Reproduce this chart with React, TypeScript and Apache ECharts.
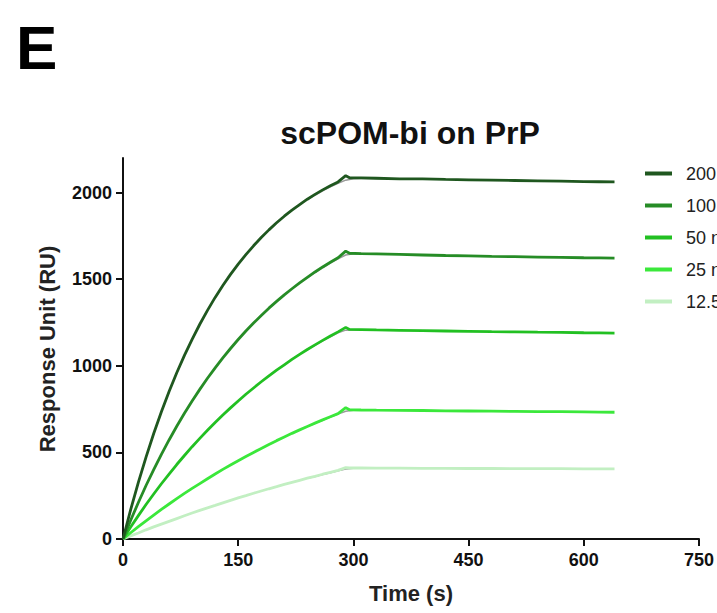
import React, { useEffect, useRef } from "react";
import * as echarts from "echarts";

// Time points (s): association 0..290, dissociation 295..640
const times = [
  0, 10, 20, 30, 40, 50, 60, 70, 80, 90, 100, 110, 120, 130, 140, 150, 160, 170, 180, 190,
  200, 210, 220, 230, 240, 250, 260, 270, 280, 290,
  295, 310, 330, 360, 390, 420, 450, 480, 510, 540, 570, 600, 620, 640,
];

const seriesNames = ["200 nM", "100 nM", "50 nM", "25 nM", "12.5 nM"];

const r200 = [
  0, 170, 327, 473, 609, 735, 852, 960, 1060, 1153, 1240, 1320, 1395, 1464, 1528, 1587, 1642, 1693, 1741, 1785,
  1826, 1864, 1899, 1931, 1962, 1990, 2016, 2040, 2062, 2098,
  2086, 2085, 2083, 2080, 2079, 2076, 2074, 2072, 2070, 2068, 2066, 2064, 2063, 2062,
];
const r100 = [
  0, 108, 211, 309, 401, 489, 572, 651, 726, 797, 864, 928, 988, 1046, 1100, 1152, 1201, 1247, 1291, 1333,
  1372, 1410, 1445, 1479, 1511, 1542, 1571, 1598, 1624, 1662,
  1650, 1648, 1646, 1643, 1640, 1637, 1635, 1632, 1630, 1628, 1626, 1624, 1623, 1622,
];
const r50 = [
  0, 69, 135, 199, 260, 319, 375, 430, 482, 533, 581, 628, 673, 716, 757, 797, 836, 872, 908, 942,
  975, 1006, 1037, 1066, 1094, 1121, 1147, 1172, 1196, 1222,
  1210, 1209, 1207, 1205, 1203, 1201, 1199, 1197, 1196, 1194, 1193, 1191, 1190, 1189,
];
const r25 = [
  0, 36, 71, 105, 138, 171, 202, 233, 263, 292, 320, 348, 375, 402, 427, 452, 476, 500, 523, 546,
  568, 589, 610, 630, 650, 669, 688, 706, 724, 758,
  746, 745, 744, 743, 742, 740, 739, 738, 737, 736, 735, 734, 733, 732,
];
const r12 = [
  0, 18, 35, 53, 70, 86, 102, 118, 134, 150, 165, 180, 194, 209, 223, 237, 250, 264, 277, 290,
  302, 315, 327, 339, 351, 362, 374, 385, 396, 412,
  410, 410, 409, 409, 408, 408, 407, 407, 406, 406, 406, 405, 405, 405,
];

// Fitted curves near the end of association (grey lines)
const fitTimes = [240, 250, 260, 270, 280, 290, 300, 310, 320, 340];
const f200 = [1958, 1985, 2010, 2033, 2054, 2072, 2080, 2082, 2082, 2081];
const f100 = [1508, 1538, 1566, 1593, 1618, 1640, 1647, 1648, 1647, 1646];
const f50 = [1092, 1118, 1144, 1168, 1191, 1206, 1207, 1207, 1206, 1205];
const f25 = [649, 668, 686, 704, 721, 738, 744, 744, 744, 743];
const f12 = [350, 361, 372, 383, 394, 404, 408, 409, 409, 409];

const yTicks = [0, 500, 1000, 1500, 2000];

const colors = ["#1f571f", "#268c26", "#22c022", "#3be83b", "#c2efc2"];

export default function App() {
  const ref = useRef<HTMLDivElement>(null);
  useEffect(() => {
    if (!ref.current) return;
    const chart = echarts.init(ref.current, null, { renderer: "svg" });
    const data = [r200, r100, r50, r25, r12];
    const fits = [f200, f100, f50, f25, f12];
    const font = "Liberation Sans, Arial, sans-serif";
    const series: any[] = [];
    fits.forEach((f, i) => {
      series.push({
        name: "fit" + i,
        type: "line",
        data: fitTimes.map((t, j) => [t, f[j]]),
        showSymbol: false,
        lineStyle: { color: "#9a9a9a", width: 1.5 },
        z: 1,
        silent: true,
      });
    });
    data.slice().reverse().forEach((d, k) => {
      const i = data.length - 1 - k;
      series.push({
        name: seriesNames[i],
        type: "line",
        data: times.map((t, j) => [t, d[j]]),
        showSymbol: false,
        lineStyle: { color: colors[i], width: 2.8 },
        itemStyle: { color: colors[i] },
        z: 2,
      });
    });
    chart.setOption({
      animation: false,
      textStyle: { fontFamily: font },
      grid: { left: 123, right: 18, top: 158, bottom: 74, containLabel: false },
      legend: {
        data: seriesNames,
        orient: "vertical",
        left: 645,
        top: 164,
        padding: 0,
        icon: "rect",
        itemWidth: 27,
        itemHeight: 4,
        itemGap: 13,
        textStyle: { fontSize: 18, lineHeight: 19, color: "#222", fontFamily: font, padding: [0, 0, 0, 9] },
      },
      xAxis: {
        type: "value",
        min: 0,
        max: 750,
        interval: 150,
        splitLine: { show: false },
        axisLine: { lineStyle: { color: "#111", width: 2 } },
        axisTick: { show: true, length: 7, lineStyle: { color: "#111", width: 2 } },
        axisLabel: { color: "#111", fontSize: 18, fontWeight: "bold", margin: 12, fontFamily: font },
      },
      yAxis: {
        type: "value",
        min: 0,
        max: 2200,
        interval: 500,
        splitLine: { show: false },
        axisLine: { show: true, lineStyle: { color: "#111", width: 2 } },
        axisTick: { show: true, length: 7, customValues: yTicks, lineStyle: { color: "#111", width: 2 } },
        axisLabel: {
          color: "#111",
          fontSize: 18,
          fontWeight: "bold",
          margin: 11,
          customValues: yTicks,
          fontFamily: font,
          formatter: (v: number) => String(v),
        },
      },
      graphic: [
        {
          type: "text",
          x: 16,
          y: 16,
          style: { text: "E", font: "bold 62px Liberation Sans, Arial, sans-serif", fill: "#000", align: "left", verticalAlign: "top" },
        },
        {
          type: "text",
          x: 410,
          y: 133,
          style: { text: "scPOM-bi on PrP", font: "bold 32px Liberation Sans, Arial, sans-serif", fill: "#111", align: "center", verticalAlign: "middle" },
        },
        {
          type: "text",
          x: 47,
          y: 349,
          rotation: Math.PI / 2,
          style: { text: "Response Unit (RU)", font: "bold 22px Liberation Sans, Arial, sans-serif", fill: "#222", align: "center", verticalAlign: "middle" },
        },
        {
          type: "text",
          x: 411,
          y: 593,
          style: { text: "Time (s)", font: "bold 22px Liberation Sans, Arial, sans-serif", fill: "#222", align: "center", verticalAlign: "middle" },
        },
      ],
      series,
    });
    return () => chart.dispose();
  }, []);
  return <div ref={ref} style={{ position: "fixed", left: 0, top: 0, width: 717, height: 613, background: "#fff" }} />;
}
